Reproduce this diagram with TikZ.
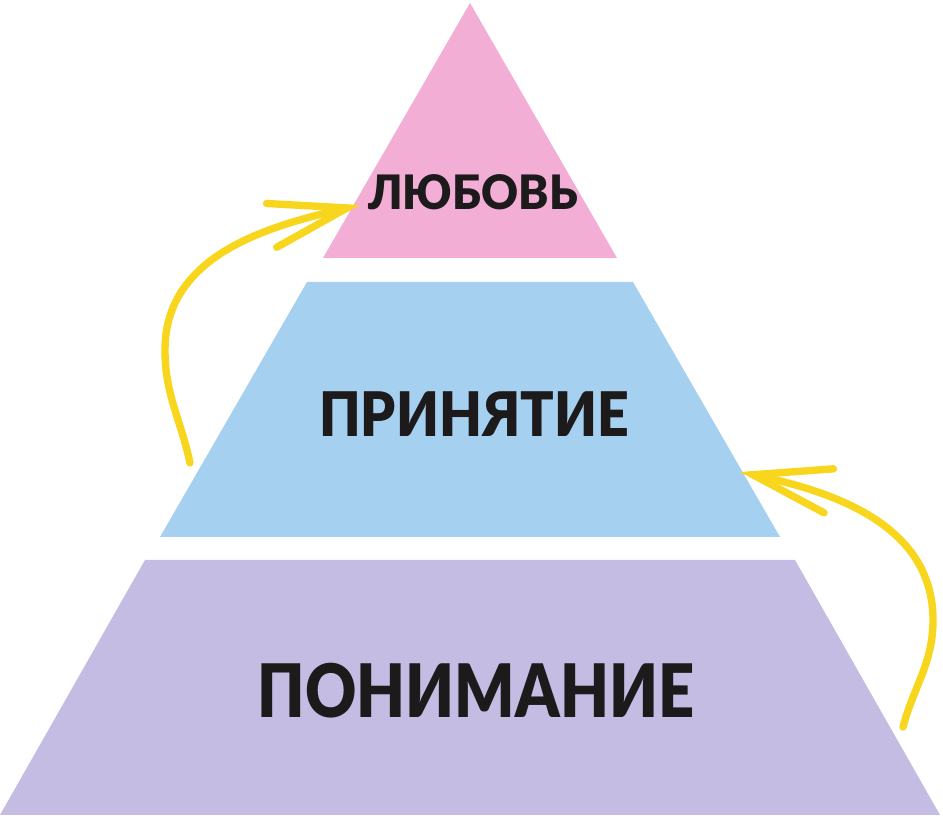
\documentclass[tikz,border=0pt]{standalone}
\usepackage{fontspec}
\usepackage{xcolor}
\usetikzlibrary{arrows.meta, positioning}
\newfontfamily\pyrfont{Lato Black}

\definecolor{lovepink}{HTML}{F2AED4}
\definecolor{acceptblue}{HTML}{A6D0F0}
\definecolor{understandlilac}{HTML}{C4BCE2}
\definecolor{arrowyellow}{HTML}{F8D61E}
\definecolor{textblack}{HTML}{1C1A1B}

% narrowed heavy caption: {width factor}{size}{text}
\newcommand{\levelcaption}[3]{\scalebox{#1}[1]{\pyrfont\fontsize{#2}{#2}\selectfont #3}}

\begin{document}
\begin{tikzpicture}[x=0.02cm, y=0.02cm]
    \tikzstyle{level} = [text=textblack, inner sep=0pt, anchor=base]
    \tikzstyle{growarrow} = [draw=arrowyellow, line width=4.2pt, line cap=round,
        -{Straight Barb[length=1.55cm, width=0.9cm, line cap=round]}]

    \useasboundingbox (0,0) rectangle (943,820);

    % levels of the pyramid
    \fill[understandlilac] (0,5) -- (940,5) -- (795,260) -- (145,260) -- cycle;
    \fill[acceptblue] (160,283) -- (780,283) -- (633,538) -- (307,538) -- cycle;
    \fill[lovepink] (323,562) -- (617,562) -- (470,817) -- cycle;

    \node (love) [level] at (473,610) {\levelcaption{0.96}{27}{ЛЮБОВЬ}};
    \node (accept) [level] at (474,383) {\levelcaption{0.9}{35}{ПРИНЯТИЕ}};
    \node (understand) [level] at (476,102) {\levelcaption{0.855}{42}{ПОНИМАНИЕ}};

    % arrows between levels
    \coordinate (leftfoot) at (190,357);
    \coordinate (lefttip) at (360,615);
    \coordinate (rightfoot) at (903,93);
    \coordinate (righttip) at (740,348);

    \draw [growarrow] (leftfoot) to[out=102,in=270] (165,470) to[out=90,in=193] (lefttip);
    \draw [growarrow] (rightfoot) to[out=75,in=270] (933,200) to[out=90,in=-12] (righttip);
\end{tikzpicture}
\end{document}
